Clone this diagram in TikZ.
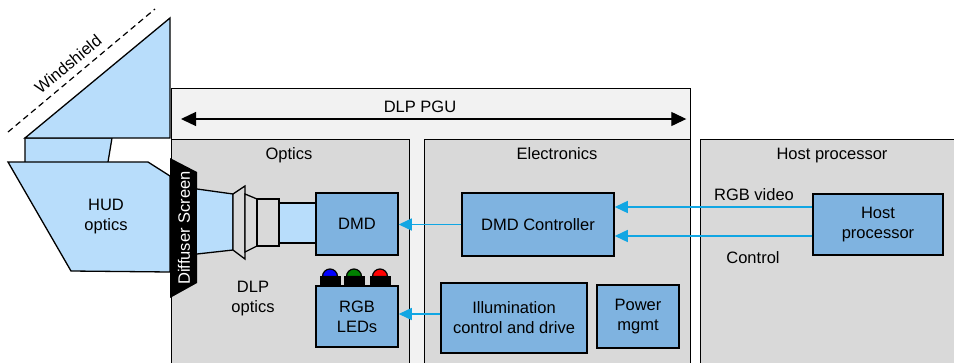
\documentclass[tikz,border=0pt]{standalone}
\usepackage{fontspec}
\setmainfont{Liberation Sans}
\usetikzlibrary{arrows.meta,calc}
\definecolor{boxblue}{HTML}{7FB3E0}
\definecolor{lightblue}{HTML}{B8DDFB}
\definecolor{secgray}{HTML}{D9D9D9}
\definecolor{pgugray}{HTML}{F2F2F2}
\definecolor{arrowcyan}{HTML}{11A6E3}
\newcommand{\lblfont}{\fontsize{16.5}{20}\selectfont}
\begin{document}
\begin{tikzpicture}[x=1pt,y=-1pt,line width=1.3pt]
\tikzset{
  sect/.style={draw=black, fill=secgray, line width=1.3pt, anchor=north west, inner sep=0pt},
  blk/.style={draw=black, fill=boxblue, line width=1.5pt, align=center, inner sep=0pt, font=\lblfont},
  lbl/.style={font=\lblfont, anchor=base, inner sep=0pt},
  bluearr/.style={draw=arrowcyan, line width=1.3pt, -{Triangle[length=13pt,width=12pt]}},
  optic/.style={draw=black, fill=lightblue, line width=1.3pt},
  lens/.style={draw=black, fill=secgray, line width=1.3pt},
}
\useasboundingbox (0,0) rectangle (954,362);
\clip (0,0) rectangle (954,362);
\fill[white] (0,0) rectangle (954,362);

% sections
\node[sect, fill=pgugray, minimum width=519pt, minimum height=320pt] (pgu) at (171,88) {};
\node[sect, minimum width=238pt, minimum height=260pt] (opt) at (171,139) {};
\node[sect, minimum width=266pt, minimum height=260pt] (elec) at (424,139) {};
\node[sect, minimum width=270pt, minimum height=260pt] (hostsec) at (700,139) {};

\draw[{Triangle[length=15pt,width=14pt]}-{Triangle[length=15pt,width=14pt]}, line width=1.3pt]
  ([xshift=10pt,yshift=-31pt]pgu.north west) -- ([xshift=-5pt,yshift=-31pt]pgu.north east);
\node[lbl] (pgulbl) at (420,112) {DLP PGU};
\node[lbl] (optlbl) at (289,159) {Optics};
\node[lbl] (eleclbl) at (557,159) {Electronics};
\node[lbl] (hostlbl) at (832,159) {Host processor};

% windshield
\draw[dashed, dash pattern=on 6pt off 4pt, line width=1.2pt] (8,132) -- (155,9);
\node[font=\lblfont, rotate=39.6, inner sep=0pt] (wslbl) at (68,64) {Windshield};
\draw[optic] (25,138) -- (112,138) -- (107,168) -- (25,168) -- cycle;
\draw[optic] (25,138) -- (170,18) -- (170,138) -- cycle;
\draw[optic] (8,162) -- (148,162) -- (170,176) -- (170,272) -- (71,271) -- cycle;
\node[font=\lblfont, align=center, inner sep=0pt] (hud) at (106,217) {HUD\\optics};

% diffuser
\fill[black] (170,158) -- (197,172) -- (197,283) -- (170,298) -- cycle;
\node[font=\lblfont, text=white, rotate=90, inner sep=0pt] (diff) at (184,228) {Diffuser Screen};

% beams and lens
\draw[optic] (197,189) -- (233,194) -- (233,250) -- (197,254);
\draw[lens] (233,194) -- (245,186) -- (245,259) -- (233,250) -- cycle;
\draw[lens] (245,194) -- (257,199) -- (257,246) -- (245,252) -- cycle;
\draw[lens] (257,199) rectangle (279,246);
\draw[optic] (279,203) rectangle (316,243);
\node[font=\lblfont, align=center, inner sep=0pt] (dlpopt) at (253,299) {DLP\\optics};

% LEDs
\foreach \cx/\col in {330/blue,354/green!50!black,380/red}{
  \draw[fill=\col, line width=1.2pt] (\cx-7.5,276.5) arc[start angle=180, end angle=360, radius=7.5] -- cycle;
  \fill[black] (\cx-10.5,276) rectangle (\cx+10.5,286.5);
}

% blocks
\node[blk, minimum width=82pt, minimum height=62pt] (dmd) at (357,224) {DMD};
\node[blk, minimum width=82pt, minimum height=61pt] (leds) at (357,316.5) {RGB\\LEDs};
\node[blk, minimum width=152pt, minimum height=63pt] (ctrl) at (538,224.5) {DMD Controller};
\node[blk, minimum width=146pt, minimum height=70pt] (illum) at (514,318) {Illumination\\control and drive};
\node[blk, minimum width=82pt, minimum height=63pt] (power) at (638,316.5) {Power\\mgmt};
\node[blk, minimum width=130pt, minimum height=61pt] (host) at (878,224.5) {Host\\processor};

% arrows
\coordinate (rgbsrc) at ([yshift=17.5pt]host.west);
\coordinate (ctlsrc) at ([yshift=-11.5pt]host.west);
\coordinate (illout) at ([yshift=4pt]illum.west);
\draw[bluearr] (rgbsrc) -- (ctrl.east |- rgbsrc);
\draw[bluearr] (ctlsrc) -- (ctrl.east |- ctlsrc);
\draw[bluearr] (ctrl.west) -- (dmd.east |- ctrl.west);
\draw[bluearr] (illout) -- (leds.east |- illout);
\node[lbl] (rgbv) at (754,200) {RGB video};
\node[lbl] (ctl) at (753,263) {Control};
\end{tikzpicture}
\end{document}
